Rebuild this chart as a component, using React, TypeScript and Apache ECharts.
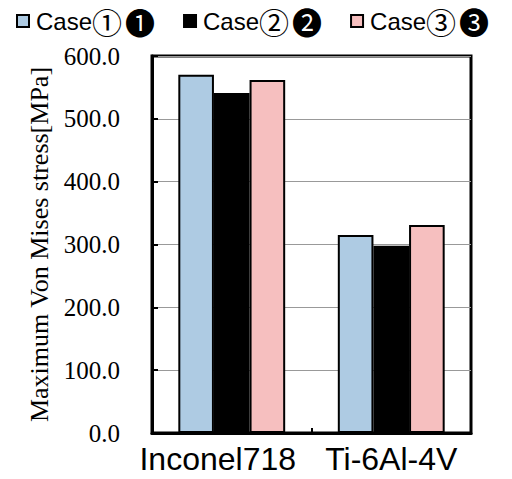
import React, { useEffect, useRef } from "react";
import * as echarts from "echarts";

const categories = ["Inconel718", "Ti-6Al-4V"];
const seriesNames = ["Case\u2460\u2776", "Case\u2461\u2777", "Case\u2462\u2778"];
const case1 = [570, 315];
const case2 = [541, 298];
const case3 = [562, 331];
const colors = ["#aecbe3", "#000000", "#f6bfbf"];

export default function App() {
  const ref = useRef<HTMLDivElement>(null);
  useEffect(() => {
    if (!ref.current) return;
    const chart = echarts.init(ref.current, null, { renderer: "svg" });
    const data = [case1, case2, case3];
    chart.setOption({
      animation: false,
      backgroundColor: "#ffffff",
      legend: {
        top: 6,
        left: 16,
        padding: 0,
        itemWidth: 12,
        itemHeight: 12,
        itemGap: 28,
        icon: "rect",
        formatter: (n: string) => `{a|${n.slice(0, 4)}}{b|${n.charAt(4)}}{c|${n.charAt(5)}}`,
        textStyle: {
          color: "#000",
          rich: {
            a: { fontFamily: "Liberation Sans", fontSize: 24, lineHeight: 30, color: "#000", padding: [0, 0, 0, 2] },
            b: { fontFamily: "Noto Sans CJK JP", fontSize: 30, lineHeight: 30, color: "#000" },
            c: { fontFamily: "Noto Sans CJK JP", fontSize: 30, lineHeight: 30, color: "#000", padding: [0, 0, 0, 3] },
          },
        },
        data: seriesNames,
      },
      grid: {
        left: 152,
        right: 41,
        top: 56,
        bottom: 46,
        show: true,
        borderColor: "#000",
        borderWidth: 3,
        containLabel: false,
      },
      xAxis: {
        type: "category",
        data: categories,
        axisLine: { lineStyle: { color: "#000", width: 3 } },
        axisTick: { show: true, inside: true, length: 5, lineStyle: { color: "#000", width: 2 } },
        axisLabel: {
          interval: 0,
          color: "#000",
          margin: 10,
          formatter: (v: string, i: number) => (i === 0 ? `{p|${v}}` : `{q|${v}}`),
          rich: {
            p: { fontFamily: "Liberation Sans", fontSize: 32, color: "#000", padding: [0, 28, 0, 0] },
            q: { fontFamily: "Liberation Sans", fontSize: 32, color: "#000" },
          },
        },
      },
      yAxis: {
        type: "value",
        min: 0,
        max: 600,
        interval: 100,
        name: "Maximum Von Mises stress[MPa]",
        nameLocation: "middle",
        nameGap: 89,
        nameTextStyle: { fontFamily: "Liberation Serif", fontSize: 26, color: "#000" },
        axisLine: { show: true, lineStyle: { color: "#000", width: 3 } },
        axisTick: { show: true, inside: true, length: 6, lineStyle: { color: "#000", width: 2 } },
        splitLine: { show: true, lineStyle: { color: "#999", width: 1 } },
        axisLabel: {
          color: "#000",
          margin: 32,
          formatter: (v: number) => `{s|${v.toFixed(1)}}`,
          rich: {
            s: { fontFamily: "Liberation Serif", fontSize: 25, color: "#000" },
          },
        },
      },
      series: seriesNames.map((n, i) => ({
        name: n,
        type: "bar",
        data: data[i],
        barGap: "0%",
        barCategoryGap: "33%",
        itemStyle: { color: colors[i], borderColor: "#000", borderWidth: 2 },
      })),
    });
    return () => chart.dispose();
  }, []);
  return <div ref={ref} style={{ width: 512, height: 479, margin: -8 }} />;
}
